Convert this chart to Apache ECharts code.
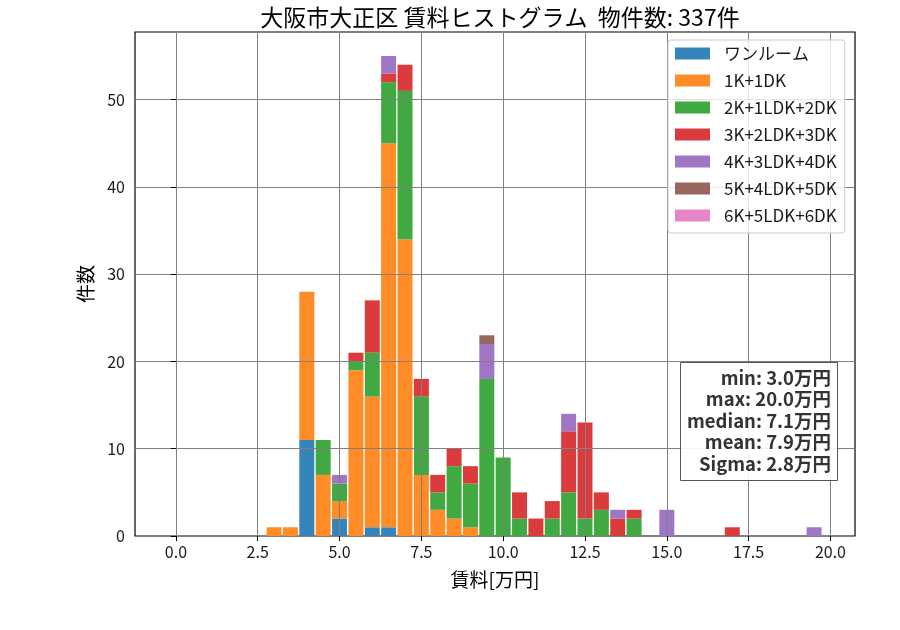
<!DOCTYPE html>
<html>
<head>
<meta charset="utf-8">
<script src="https://cdn.jsdelivr.net/npm/echarts@6/dist/echarts.min.js"></script>
</head>
<body style="margin:0">
<div id="chart" style="width:900px;height:630px"></div>
<script>
// bin centres (万円), hidden category axis spans the whole visible range
var allBins = ['-1.0','-0.5','0.0','0.5','1.0','1.5','2.0','2.5','3.0','3.5','4.0','4.5','5.0','5.5','6.0','6.5',
  '7.0','7.5','8.0','8.5','9.0','9.5','10.0','10.5','11.0','11.5','12.0','12.5','13.0','13.5','14.0','14.5',
  '15.0','15.5','16.0','16.5','17.0','17.5','18.0','18.5','19.0','19.5','20.0','20.5'];
var bins = ['3.0','3.5','4.0','4.5','5.0','5.5','6.0','6.5','7.0','7.5','8.0','8.5','9.0','9.5','10.0','10.5',
  '11.0','11.5','12.0','12.5','13.0','13.5','14.0','14.5','15.0','15.5','16.0','16.5','17.0','17.5','18.0','18.5','19.0','19.5'];

var names = ['ワンルーム','1K+1DK','2K+1LDK+2DK','3K+2LDK+3DK','4K+3LDK+4DK','5K+4LDK+5DK','6K+5LDK+6DK'];
var colors = ['#3585bb','#ff8c26','#41a941','#da3c3d','#9f76c4','#98675d','#e685c8'];

var oneRoom = [0,0,11,0,2,0,1,1,0,0,0,0,0,0,0,0,0,0,0,0,0,0,0,0,0,0,0,0,0,0,0,0,0,0];
var k1      = [1,1,17,7,2,19,15,44,34,7,3,2,1,0,0,0,0,0,0,0,0,0,0,0,0,0,0,0,0,0,0,0,0,0];
var k2      = [0,0,0,4,2,1,5,7,17,9,2,6,5,18,9,2,0,2,5,2,3,0,2,0,0,0,0,0,0,0,0,0,0,0];
var k3      = [0,0,0,0,0,1,6,1,3,2,2,2,2,0,0,3,2,2,7,11,2,2,1,0,0,0,0,0,1,0,0,0,0,0];
var k4      = [0,0,0,0,1,0,0,2,0,0,0,0,0,4,0,0,0,0,2,0,0,1,0,0,3,0,0,0,0,0,0,0,0,1];
var k5      = [0,0,0,0,0,0,0,0,0,0,0,0,0,1,0,0,0,0,0,0,0,0,0,0,0,0,0,0,0,0,0,0,0,0];
var k6      = [0,0,0,0,0,0,0,0,0,0,0,0,0,0,0,0,0,0,0,0,0,0,0,0,0,0,0,0,0,0,0,0,0,0];
var counts = [oneRoom, k1, k2, k3, k4, k5, k6];

var xTicks = [0, 2.5, 5, 7.5, 10, 12.5, 15, 17.5, 20];
var yTicks = [0, 10, 20, 30, 40, 50];
var statLines = ['min: 3.0万円', 'max: 20.0万円', 'median: 7.1万円', 'mean: 7.9万円', 'Sigma: 2.8万円'];

var font = 'Noto Sans CJK JP';
var chart = echarts.init(document.getElementById('chart'));

var series = names.map(function (name, s) {
  return {
    name: name,
    type: 'bar',
    stack: 'total',
    xAxisIndex: 1,
    barWidth: 15,
    itemStyle: { color: colors[s] },
    data: allBins.map(function (b) {
      var i = bins.indexOf(b);
      return i < 0 ? 0 : counts[s][i];
    })
  };
});

chart.setOption({
  animation: false,
  backgroundColor: '#fff',
  textStyle: { fontFamily: font },
  title: {
    text: '大阪市大正区 賃料ヒストグラム  物件数: 337件',
    left: 495, top: 1, textAlign: 'center',
    textStyle: { fontSize: 23, fontWeight: 'normal', color: '#000', fontFamily: font }
  },
  grid: {
    left: 135, right: 45, top: 32, bottom: 94,
    show: true, borderColor: '#000', borderWidth: 1.2, backgroundColor: 'transparent'
  },
  legend: {
    orient: 'vertical', left: 668, top: 40,
    padding: [4, 8, 8, 7],
    itemWidth: 35, itemHeight: 12, itemGap: 8,
    icon: 'rect',
    backgroundColor: 'rgba(255,255,255,0.8)',
    borderColor: '#cccccc', borderWidth: 1, borderRadius: 3,
    z: 10,
    textStyle: { fontSize: 17, lineHeight: 19, color: '#1a1a1a', padding: [0, 0, 0, 9], fontFamily: font },
    data: names
  },
  xAxis: [{
    type: 'value', min: -1.25, max: 20.75, z: 5,
    name: '賃料[万円]', nameLocation: 'middle', nameGap: 34,
    nameTextStyle: { fontSize: 19, color: '#000' },
    axisLine: { show: false },
    axisTick: { show: true, inside: false, customValues: xTicks, length: 5, lineStyle: { color: '#000' } },
    axisLabel: { customValues: xTicks, fontSize: 16, color: '#1a1a1a', margin: 8,
      formatter: function (v) { return v.toFixed(1); } },
    splitLine: { show: true, lineStyle: { color: '#808080', width: 1 } }
  }, {
    type: 'category', data: allBins, show: false
  }],
  yAxis: {
    type: 'value', min: 0, max: 57.75, z: 5,
    name: '件数', nameLocation: 'middle', nameGap: 40,
    nameTextStyle: { fontSize: 19, color: '#000' },
    axisLine: { show: false },
    axisTick: { show: true, inside: false, customValues: yTicks, length: 5, lineStyle: { color: '#000' } },
    axisLabel: { customValues: yTicks, fontSize: 16, color: '#1a1a1a', margin: 10 },
    splitLine: { show: true, lineStyle: { color: '#808080', width: 1 } }
  },
  graphic: [{
    type: 'rect', z: 20,
    shape: { x: 680.5, y: 362.5, width: 157, height: 118 },
    style: { fill: 'rgba(255,255,255,0.9)', stroke: '#555', lineWidth: 1 }
  }, {
    type: 'text', z: 21,
    style: {
      x: 831, y: 367, align: 'right', verticalAlign: 'top',
      text: statLines.join('\n'),
      font: 'bold 18.5px "Noto Sans CJK JP"', lineHeight: 21.5, fill: '#333'
    }
  }],
  series: series
});
</script>
</body>
</html>
